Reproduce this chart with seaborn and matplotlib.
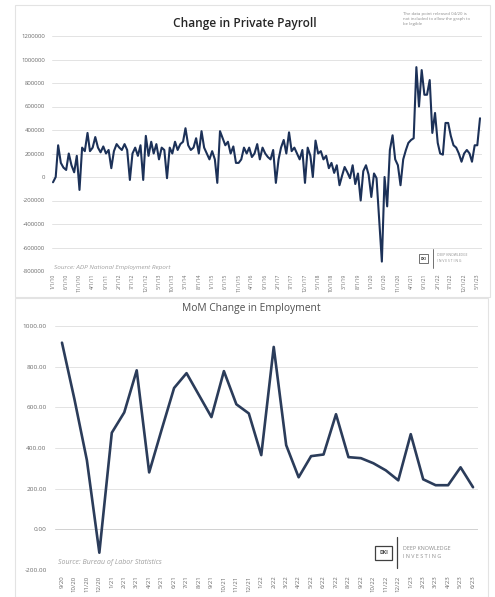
import matplotlib
matplotlib.use('Agg')
import matplotlib.pyplot as plt
import matplotlib.dates as mdates
import seaborn as sns
import pandas as pd
import numpy as np
from matplotlib.patches import Rectangle
from matplotlib.lines import Line2D

# ---------------- data ----------------
# ADP monthly change in private payroll, Jan 2010 - Jun 2023 (Apr 2020 omitted)
adp_2010 = [-45000, 0, 270000, 120000, 80000, 60000, 200000, 100000, 40000, 180000, -110000, 250000]
adp_2011 = [220000, 375000, 220000, 250000, 340000, 250000, 210000, 260000, 200000, 230000, 75000, 220000]
adp_2012 = [280000, 250000, 230000, 280000, 230000, -25000, 200000, 250000, 180000, 270000, -25000, 350000]
adp_2013 = [180000, 300000, 200000, 280000, 150000, 250000, 230000, -10000, 250000, 200000, 300000, 230000]
adp_2014 = [280000, 300000, 415000, 270000, 230000, 250000, 330000, 200000, 390000, 250000, 200000, 150000]
adp_2015 = [220000, 150000, -50000, 390000, 330000, 270000, 300000, 200000, 260000, 120000, 120000, 150000]
adp_2016 = [250000, 200000, 250000, 170000, 200000, 280000, 150000, 250000, 200000, 170000, 150000, 230000]
adp_2017 = [-50000, 150000, 250000, 315000, 200000, 380000, 220000, 250000, 200000, 150000, 230000, -50000]
adp_2018 = [250000, 180000, 0, 310000, 200000, 220000, 150000, 180000, 75000, 120000, 35000, 100000]
adp_2019 = [-70000, 15000, 85000, 40000, -10000, 100000, -60000, 30000, -200000, 50000, 100000, 20000]
adp_2020 = [-170000, 30000, -10000, -720000, 0, -250000, 230000, 355000, 150000, 100000, -70000]  # Jan-Mar, May-Dec
adp_2021 = [150000, 230000, 290000, 315000, 330000, 935000, 600000, 910000, 700000, 700000, 825000, 375000]
adp_2022 = [545000, 290000, 200000, 190000, 460000, 460000, 350000, 270000, 250000, 200000, 130000, 200000]
adp_2023 = [230000, 200000, 130000, 270000, 270000, 500000]

adp_values = (adp_2010 + adp_2011 + adp_2012 + adp_2013 + adp_2014 + adp_2015 + adp_2016 +
              adp_2017 + adp_2018 + adp_2019 + adp_2020 + adp_2021 + adp_2022 + adp_2023)
adp_dates = [d for d in pd.date_range('2010-01-01', '2023-06-01', freq='MS')
             if d != pd.Timestamp('2020-04-01')]

# BLS month-over-month change in employment (thousands)
bls_months = ['9/20', '10/20', '11/20', '12/20', '1/21', '2/21', '3/21', '4/21', '5/21', '6/21',
              '7/21', '8/21', '9/21', '10/21', '11/21', '12/21', '1/22', '2/22', '3/22', '4/22',
              '5/22', '6/22', '7/22', '8/22', '9/22', '10/22', '11/22', '12/22', '1/23', '2/23',
              '3/23', '4/23', '5/23', '6/23']
bls_values = [918, 640, 340, -115, 475, 575, 782, 280, 490, 695, 768, 660, 552, 778, 615, 570,
              365, 897, 414, 256, 360, 368, 566, 355, 350, 325, 290, 241, 468, 246, 217, 217,
              305, 207]

top_yticks = [-800000, -600000, -400000, -200000, 0, 200000, 400000, 600000, 800000, 1000000, 1200000]
bot_yticks = [-200, 0, 200, 400, 600, 800, 1000]

# ---------------- figure ----------------
sns.set_theme(style='white')
plt.rcParams['font.family'] = ['Open Sans', 'DejaVu Sans']

W, H = 495, 597
fig = plt.figure(figsize=(W / 100, H / 100), dpi=100)
fig.patch.set_facecolor('white')

def fx(px):
    return px / W

def fy(py):
    return 1 - py / H

# card borders
fig.patches.append(Rectangle((fx(15), fy(297)), fx(490) - fx(15), fy(5) - fy(297),
                             transform=fig.transFigure, fill=False, edgecolor='#e3e3e3', lw=0.8))
fig.patches.append(Rectangle((fx(15), fy(597)), fx(488) - fx(15), fy(298) - fy(597),
                             transform=fig.transFigure, fill=False, edgecolor='#e3e3e3', lw=0.8))

grid_c = '#dedede'
tick_c = '#6b6b6b'

# ---------------- top chart ----------------
ax1 = fig.add_axes([fx(52), fy(271), fx(482) - fx(52), fy(36) - fy(271)])
df_top = pd.DataFrame({'date': adp_dates, 'value': adp_values})
sns.lineplot(data=df_top, x='date', y='value', ax=ax1, color='#1c3158', lw=1.5, sort=False)
ax1.set_ylim(-800000, 1200000)
ax1.set_yticks(top_yticks)
ax1.set_yticklabels([str(v) for v in top_yticks])
start = mdates.date2num(pd.Timestamp('2010-01-01'))
end = mdates.date2num(pd.Timestamp('2023-06-01'))
scale = 427 / (end - start)
ax1.set_xlim(start - 1 / scale, end + 2 / scale)
tick_dates = pd.date_range('2010-01-01', '2023-06-01', freq='5MS')
ax1.set_xticks(tick_dates)
ax1.set_xticklabels([f"{d.month}/1/{d.strftime('%y')}" for d in tick_dates], rotation=90)
ax1.tick_params(axis='x', labelsize=3.7, colors=tick_c, pad=2, length=0)
ax1.tick_params(axis='y', labelsize=4.3, colors=tick_c, pad=5, length=0)
ax1.yaxis.grid(True, color=grid_c, lw=0.6)
ax1.set_axisbelow(True)
for s in ax1.spines.values():
    s.set_visible(False)
ax1.set_xlabel('')
ax1.set_ylabel('')

fig.text(fx(245), fy(24), 'Change in Private Payroll', ha='center', va='center',
         fontsize=8.6, color='#262626', fontweight='semibold')
fig.text(fx(403), fy(12), 'The data point released 04/20 is\nnot included to allow the graph to\nbe legible',
         ha='left', va='top', fontsize=3.1, color='#8c8c8c', linespacing=1.25)
fig.text(fx(54), fy(268), 'Source: ADP National Employment Report', ha='left', va='center',
         fontsize=4.6, color='#a0a0a0', style='italic')

# top logo
fig.patches.append(Rectangle((fx(419), fy(263)), fx(428) - fx(419), fy(254) - fy(263),
                             transform=fig.transFigure, fill=False, edgecolor='#595959', lw=0.6))
fig.text(fx(423.5), fy(258.5), 'DKI', ha='center', va='center', fontsize=2.4, color='#404040',
         fontweight='bold')
fig.lines.append(Line2D([fx(433), fx(433)], [fy(249), fy(268)], transform=fig.transFigure,
                        color='#595959', lw=0.6))
fig.text(fx(437), fy(255.5), 'DEEP KNOWLEDGE', ha='left', va='center', fontsize=2.4, color='#8c8c8c')
fig.text(fx(437), fy(260.5), 'I N V E S T I N G', ha='left', va='center', fontsize=2.4, color='#8c8c8c')

# ---------------- bottom chart ----------------
ax2 = fig.add_axes([fx(55), fy(570), fx(478) - fx(55), fy(326) - fy(570)])
df_bot = pd.DataFrame({'month': bls_months, 'value': bls_values})
sns.lineplot(data=df_bot, x='month', y='value', ax=ax2, color='#2b3c5a', lw=1.9, sort=False)
ax2.set_ylim(-200, 1000)
ax2.set_yticks(bot_yticks)
ax2.set_yticklabels([f'{v:.2f}' for v in bot_yticks])
ax2.set_xlim(-0.56, len(bls_months) - 1 + 0.4)
ax2.set_xticks(range(len(bls_months)))
ax2.set_xticklabels(bls_months, rotation=90)
ax2.tick_params(axis='x', labelsize=4.4, colors=tick_c, pad=4, length=0)
ax2.tick_params(axis='y', labelsize=4.6, colors=tick_c, pad=6, length=0)
ax2.yaxis.grid(True, color=grid_c, lw=0.6)
ax2.axhline(0, color='#cfcfcf', lw=0.6, zorder=1)
ax2.set_axisbelow(True)
for s in ax2.spines.values():
    s.set_visible(False)
ax2.set_xlabel('')
ax2.set_ylabel('')

fig.text(fx(251), fy(309), 'MoM Change in Employment', ha='center', va='center',
         fontsize=7.4, color='#505050')
fig.text(fx(58), fy(563), 'Source: Bureau of Labor Statistics', ha='left', va='center',
         fontsize=5.0, color='#a0a0a0', style='italic')

# bottom logo
fig.patches.append(Rectangle((fx(375), fy(560)), fx(392) - fx(375), fy(546) - fy(560),
                             transform=fig.transFigure, fill=False, edgecolor='#404040', lw=0.9))
fig.text(fx(383.5), fy(553), 'DKI', ha='center', va='center', fontsize=3.6, color='#404040',
         fontweight='bold')
fig.lines.append(Line2D([fx(397), fx(397)], [fy(537), fy(568)], transform=fig.transFigure,
                        color='#404040', lw=0.9))
fig.text(fx(403), fy(549), 'DEEP KNOWLEDGE', ha='left', va='center', fontsize=3.9, color='#8c8c8c')
fig.text(fx(403), fy(556), 'I N V E S T I N G', ha='left', va='center', fontsize=3.9, color='#8c8c8c')

fig.savefig('out.png', dpi=100, facecolor='white')
